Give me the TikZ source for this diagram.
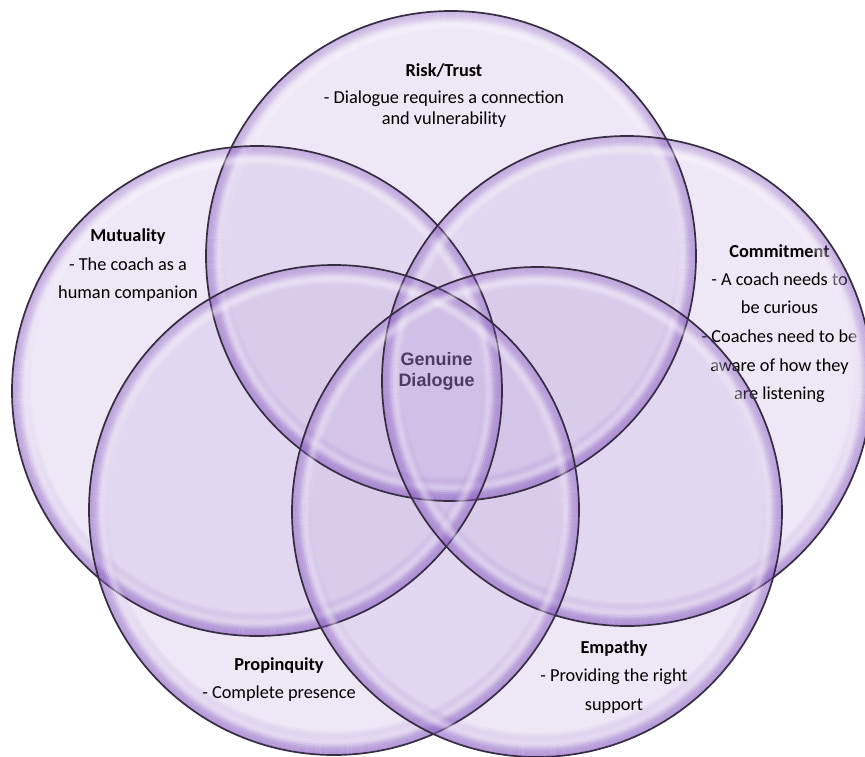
\documentclass[tikz,border=0pt]{standalone}
\usepackage{fontspec}
\setmainfont{Carlito}
\newfontfamily\corefont{Liberation Sans}
\usetikzlibrary{calc}

\definecolor{lavfill}{RGB}{198,178,225}
\definecolor{glow}{RGB}{140,95,195}
\definecolor{rim}{RGB}{55,45,66}
\definecolor{coretext}{RGB}{78,60,96}

\begin{document}
\begin{tikzpicture}[x=1pt,y=-1pt,
  title/.style={font=\fontsize{18.3}{18}\selectfont\bfseries, anchor=base, inner sep=0pt, text=black},
  body/.style={font=\fontsize{18.3}{18}\selectfont, anchor=base, inner sep=0pt, text=black},
  core/.style={font=\fontsize{18}{18}\selectfont\corefont\bfseries, anchor=base, inner sep=0pt, text=coretext},
  bubble/.style={lavfill, fill opacity=0.3},
  edge/.style={rim, line width=1.7pt}]

\path[use as bounding box] (0,0) rectangle (865,756);
\clip (0,0) rectangle (865,756);

\def\R{245}
\coordinate (risk)    at (451,256);
\coordinate (mutual)  at (257,391);
\coordinate (commit)  at (627,381);
\coordinate (propin)  at (334,510);
\coordinate (empathy) at (537,512);

% translucent bodies of the five bubbles
\foreach \c in {risk,mutual,commit,propin,empathy}
  \fill[bubble] (\c) circle[radius=\R];

% Commitment text sits under the glossy rims
\node[title] (cm-title) at (779.5,257) {Commitment};
\node[body]  (cm-1)     at (779.5,285) {- A coach needs to};
\node[body]  (cm-2)     at (779.5,313) {be curious};
\node[body]  (cm-3)     at (779.5,342) {- Coaches need to be};
\node[body]  (cm-4)     at (779.5,371) {aware of how they};
\node[body]  (cm-5)     at (779.5,399) {are listening};

% glossy rims: purple inner glow heavier at the bottom, soft white highlight, dark outline
\foreach \c in {risk,mutual,commit,propin,empathy}{
  \begin{scope}
    \clip (\c) circle[radius=\R];
    \foreach \k in {0,...,11}{
      \pgfmathsetmacro\op{0.58*(1-\k/12)}
      \pgfmathsetmacro\rr{\R+4-2*\k}
      \draw[glow, line width=2.1pt, draw opacity=\op] ($(\c)+(0,-5)$) circle[radius=\rr];
    }
    \foreach \k/\op in {8/0.1,10/0.25,12/0.38,14/0.38,16/0.25,18/0.1}
      \draw[white, line width=2.1pt, draw opacity=\op] (\c) circle[radius=\R-\k];
  \end{scope}
  \draw[edge] (\c) circle[radius=\R];
}

% Risk/Trust
\node[title] (rt-title) at (444,76)  {Risk/Trust};
\node[body]  (rt-1)     at (444,103) {- Dialogue requires a connection};
\node[body]  (rt-2)     at (444,124) {and vulnerability};

% Mutuality
\node[title] (mu-title) at (128,241) {Mutuality};
\node[body]  (mu-1)     at (128,270) {- The coach as a};
\node[body]  (mu-2)     at (128,298) {human companion};

% Propinquity
\node[title] (pr-title) at (279,670) {Propinquity};
\node[body]  (pr-1)     at (279,698) {- Complete presence};

% Empathy
\node[title] (em-title) at (614,653) {Empathy};
\node[body]  (em-1)     at (614,681) {- Providing the right};
\node[body]  (em-2)     at (614,710) {support};

% shared core
\node[core] (core-1) at (436.5,365) {Genuine};
\node[core] (core-2) at (436.5,386) {Dialogue};
\end{tikzpicture}
\end{document}
